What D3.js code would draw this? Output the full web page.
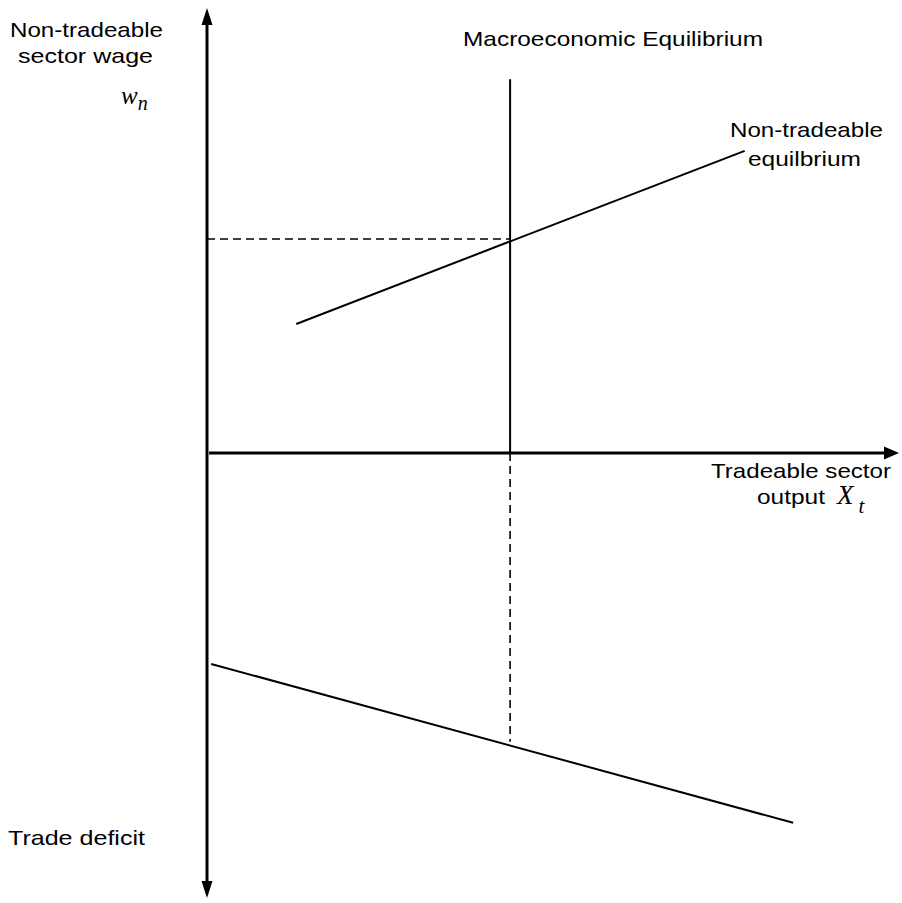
<!DOCTYPE html>
<html><head><meta charset="utf-8">
<script src="https://cdn.jsdelivr.net/npm/d3@7"></script>
<style>body{margin:0;background:#fff}svg{display:block}</style>
</head><body>
<script>
// ---- data (conceptual diagram units) ----
const nonTradeable = [{x:12.9, y:29.0}, {x:77.7, y:67.9}];
const tradeDeficit = [{x:0.6, y:-47.4}, {x:84.7, y:-83.1}];
const macroX = 43.8;
const macroTop = 84.0;
const equilibriumWage = 48.1;
const equilibriumDeficit = -64.9;
const labels = ["Non-tradeable", "sector wage", "Macroeconomic Equilibrium", "Non-tradeable", "equilbrium", "Tradeable sector", "output", "Trade deficit"];

const W = 902, H = 903;
const svg = d3.select("body").append("svg").attr("width", W).attr("height", H);
const x = d3.scaleLinear().domain([0, 100]).range([207, 899]);
const y = d3.scaleLinear().domain([-100, 100]).range([898, 8]);
const line = d3.line().x(d => x(d.x)).y(d => y(d.y));

// axes
svg.append("line").attr("x1", x(0)).attr("x2", x(0)).attr("y1", y(98)).attr("y2", y(-98))
  .attr("stroke", "#000").attr("stroke-width", 3);
svg.append("line").attr("x1", x(0.3)).attr("x2", x(98.5)).attr("y1", y(0)).attr("y2", y(0))
  .attr("stroke", "#000").attr("stroke-width", 3);
// arrowheads
const ax = x(0);
svg.append("path").attr("d", `M${ax},${y(100)} L${ax-5.5},${y(100)+17} L${ax+5.5},${y(100)+17}Z`).attr("fill", "#000");
svg.append("path").attr("d", `M${ax},${y(-100)} L${ax-5.5},${y(-100)-17} L${ax+5.5},${y(-100)-17}Z`).attr("fill", "#000");
svg.append("path").attr("d", `M${x(100)},${y(0)} L${x(100)-15},${y(0)-6.5} L${x(100)-15},${y(0)+6.5}Z`).attr("fill", "#000");

// macro equilibrium line
svg.append("line").attr("x1", x(macroX)).attr("x2", x(macroX)).attr("y1", y(macroTop)).attr("y2", y(0))
  .attr("stroke", "#000").attr("stroke-width", 2);
svg.append("line").attr("x1", x(macroX)).attr("x2", x(macroX)).attr("y1", y(0)).attr("y2", y(equilibriumDeficit))
  .attr("stroke", "#000").attr("stroke-width", 1.6).attr("stroke-dasharray", "8,5");
svg.append("line").attr("x1", x(0)).attr("x2", x(macroX)).attr("y1", y(equilibriumWage)).attr("y2", y(equilibriumWage))
  .attr("stroke", "#000").attr("stroke-width", 1.6).attr("stroke-dasharray", "8,5");

svg.append("path").datum(nonTradeable).attr("d", line).attr("fill", "none").attr("stroke", "#000").attr("stroke-width", 2);
svg.append("path").datum(tradeDeficit).attr("d", line).attr("fill", "none").attr("stroke", "#000").attr("stroke-width", 2);

// text
const sans = "'Liberation Sans', Arial, sans-serif";
const txt = (s, px, py, len) => svg.append("text").attr("x", px).attr("y", py).text(s)
  .attr("font-family", sans).attr("font-size", 21).attr("fill", "#000")
  .attr("textLength", len).attr("lengthAdjust", "spacingAndGlyphs");
txt(labels[0], 10, 37, 153);
txt(labels[1], 18, 63, 135);
txt(labels[2], 463, 46, 300);
txt(labels[3], 730, 137, 153);
txt(labels[4], 748, 166, 113);
txt(labels[5], 711, 478, 180);
txt(labels[6], 757, 504, 68);
txt(labels[7], 8, 845, 137);

const serif = "'Liberation Serif', 'Times New Roman', serif";
const wn = svg.append("text").attr("x", 121).attr("y", 104).attr("font-family", serif).attr("font-style", "italic").attr("font-size", 25);
wn.append("tspan").text("w");
wn.append("tspan").attr("dy", 6).attr("font-size", 20).text("n");
const xt = svg.append("text").attr("x", 837).attr("y", 504).attr("font-family", serif).attr("font-style", "italic").attr("font-size", 27);
xt.append("tspan").text("X");
xt.append("tspan").attr("dx", 5).attr("dy", 9).attr("font-size", 21).text("t");
</script>
</body></html>
